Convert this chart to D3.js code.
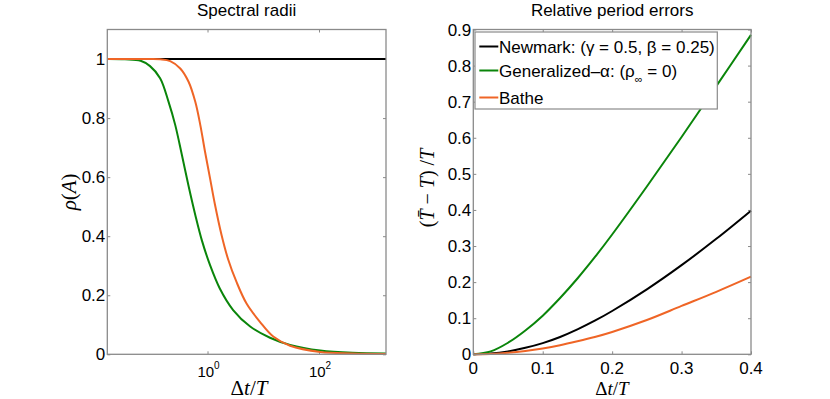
<!DOCTYPE html>
<html>
<head>
<meta charset="utf-8">
<script src="https://cdn.jsdelivr.net/npm/d3@7"></script>
<style>
  html, body { margin: 0; padding: 0; background: #fff; }
  svg { display: block; }
  text { font-family: "Liberation Sans", Arial, Helvetica, sans-serif; fill: #000; }
  .math { font-family: "Liberation Serif", "DejaVu Serif", serif; }
</style>
</head>
<body>
<svg id="chart" width="830" height="399"></svg>
<script>
// ---------------- Data ----------------
// Left panel: spectral radii vs Δt/T (log axis)
const srNewmarkX  = [0.0159, 1592];
const srNewmark   = [1, 1];
const srGenAlphaX = [0.0159, 0.033, 0.063, 0.093, 0.141, 0.20, 0.263, 0.347, 0.457, 0.603, 0.794, 1.11, 1.66, 2.88, 5.75, 13.2, 30.2, 105, 398, 1592];
const srGenAlpha  = [1.0, 0.999, 0.994, 0.976, 0.935, 0.855, 0.777, 0.675, 0.570, 0.472, 0.385, 0.302, 0.223, 0.150, 0.095, 0.056, 0.032, 0.013, 0.005, 0.003];
const srBatheX    = [0.0159, 0.093, 0.141, 0.214, 0.324, 0.457, 0.603, 0.741, 0.902, 1.11, 1.35, 1.78, 2.34, 3.31, 5.01, 8.71, 15.1, 30.2, 105, 398, 1592];
const srBathe     = [1.0, 1.0, 0.999, 0.993, 0.968, 0.923, 0.855, 0.777, 0.686, 0.596, 0.510, 0.405, 0.322, 0.245, 0.172, 0.110, 0.060, 0.029, 0.008, 0.003, 0.001];

// Right panel: relative period errors vs Δt/T
const peX        = [0, 0.025, 0.05, 0.075, 0.1, 0.125, 0.15, 0.175, 0.2, 0.25, 0.3, 0.35, 0.4];
const peNewmark  = [0, 0.002, 0.008, 0.018, 0.031, 0.048, 0.069, 0.093, 0.120, 0.180, 0.247, 0.320, 0.398];
const peGenAlpha = [0, 0.008, 0.032, 0.066, 0.107, 0.156, 0.210, 0.269, 0.332, 0.465, 0.602, 0.743, 0.885];
const peBathe    = [0, 0.001, 0.004, 0.009, 0.016, 0.025, 0.036, 0.048, 0.062, 0.095, 0.134, 0.173, 0.215];

// Ticks
const leftXTicks  = [1, 100];
const leftXExp    = ["0", "2"];
const leftYTicks  = [0, 0.2, 0.4, 0.6, 0.8, 1];
const leftYLabels = ["0", "0.2", "0.4", "0.6", "0.8", "1"];
const rightXTicks  = [0, 0.1, 0.2, 0.3, 0.4];
const rightXLabels = ["0", "0.1", "0.2", "0.3", "0.4"];
const rightYTicks  = [0, 0.1, 0.2, 0.3, 0.4, 0.5, 0.6, 0.7, 0.8, 0.9];
const rightYLabels = ["0", "0.1", "0.2", "0.3", "0.4", "0.5", "0.6", "0.7", "0.8", "0.9"];

const seriesNames  = ["Newmark", "Generalized-alpha", "Bathe"];
const seriesColors = ["#000000", "#0a850a", "#ef6526"];

// ---------------- Layout ----------------
const svg = d3.select("#chart");
const frameColor = "#8a8a8a";
const yTop = 29.5, yBot = 354.3;
const L = {x0: 107.3, x1: 386};
const R = {x0: 473.3, x1: 751};

const xL = d3.scaleLog().domain([0.1 / (2 * Math.PI), 1e4 / (2 * Math.PI)]).range([L.x0, L.x1]);
const yL = d3.scaleLinear().domain([0, 1.1]).range([yBot, yTop]);
const xR = d3.scaleLinear().domain([0, 0.4]).range([R.x0, R.x1]);
const yR = d3.scaleLinear().domain([0, 0.9]).range([yBot, yTop]);

function frame(g, x0, x1) {
  g.append("rect").attr("x", x0).attr("y", yTop).attr("width", x1 - x0).attr("height", yBot - yTop)
    .attr("fill", "#fff").attr("stroke", "none");
}
function border(g, x0, x1) {
  g.append("rect").attr("x", x0).attr("y", yTop).attr("width", x1 - x0).attr("height", yBot - yTop)
    .attr("fill", "none").attr("stroke", frameColor).attr("stroke-width", 1.3);
}
function ticks(g, xs, ys, xvals, yvals) {
  const tl = 3;
  const mk = (ax) => ax.tickSize(-tl).tickFormat("");
  const style = sel => { sel.select(".domain").remove(); sel.selectAll("line").attr("stroke", frameColor).attr("stroke-width", 1); };
  g.append("g").attr("transform", `translate(0,${yBot})`).call(mk(d3.axisBottom(xs).tickValues(xvals))).call(style);
  g.append("g").attr("transform", `translate(0,${yTop})`).call(mk(d3.axisTop(xs).tickValues(xvals))).call(style);
  g.append("g").attr("transform", `translate(${xs.range()[0]},0)`).call(mk(d3.axisLeft(ys).tickValues(yvals))).call(style);
  g.append("g").attr("transform", `translate(${xs.range()[1]},0)`).call(mk(d3.axisRight(ys).tickValues(yvals))).call(style);
}

// ---------- Left panel ----------
const gL = svg.append("g");
frame(gL, L.x0, L.x1);
ticks(gL, xL, yL, leftXTicks, leftYTicks);

const lineL = (xs, ys) => d3.line().x((d, i) => xL(xs[i])).y(d => yL(d)).curve(d3.curveCatmullRom.alpha(0.5))(ys);
[[srNewmarkX, srNewmark, 0], [srGenAlphaX, srGenAlpha, 1], [srBatheX, srBathe, 2]].forEach(([xs, ys, k]) => {
  gL.append("path").attr("d", lineL(xs, ys)).attr("fill", "none")
    .attr("stroke", seriesColors[k]).attr("stroke-width", 2);
});
border(gL, L.x0, L.x1);

gL.selectAll("text.yt").data(leftYTicks).join("text").attr("class", "yt")
  .attr("x", L.x0 - 2).attr("y", d => yL(d)).attr("dy", "0.36em")
  .attr("text-anchor", "end").attr("font-size", 17).text((d, i) => leftYLabels[i]);

const xtl = gL.selectAll("text.xt").data(leftXTicks).join("text").attr("class", "xt")
  .attr("x", d => xL(d) + 1).attr("y", 377).attr("text-anchor", "middle").attr("font-size", 15);
xtl.append("tspan").text("10");
xtl.append("tspan").attr("font-size", 10).attr("dy", -8).text((d, i) => leftXExp[i]);

gL.append("text").attr("x", (L.x0 + L.x1) / 2).attr("y", 16).attr("text-anchor", "middle")
  .attr("font-size", 17).text("Spectral radii");

const xlabL = gL.append("text").attr("class", "math").attr("x", 249).attr("y", 395)
  .attr("text-anchor", "middle").attr("font-size", 21);
xlabL.append("tspan").text("Δ");
xlabL.append("tspan").attr("font-style", "italic").text("t");
xlabL.append("tspan").text("/");
xlabL.append("tspan").attr("font-style", "italic").text("T");

const ylabL = gL.append("text").attr("class", "math")
  .attr("transform", `translate(76,${(yTop + yBot) / 2}) rotate(-90)`)
  .attr("text-anchor", "middle").attr("font-size", 21);
ylabL.append("tspan").attr("font-style", "italic").text("ρ");
ylabL.append("tspan").text("(");
ylabL.append("tspan").attr("font-style", "italic").text("A");
ylabL.append("tspan").text(")");

// ---------- Right panel ----------
const gR = svg.append("g");
frame(gR, R.x0, R.x1);
ticks(gR, xR, yR, rightXTicks, rightYTicks);

const lineR = ys => d3.line().x((d, i) => xR(peX[i])).y(d => yR(d)).curve(d3.curveCatmullRom.alpha(0.5))(ys);
[[peNewmark, 0], [peGenAlpha, 1], [peBathe, 2]].forEach(([ys, k]) => {
  gR.append("path").attr("d", lineR(ys)).attr("fill", "none")
    .attr("stroke", seriesColors[k]).attr("stroke-width", 2);
});
border(gR, R.x0, R.x1);

gR.selectAll("text.yt").data(rightYTicks).join("text").attr("class", "yt")
  .attr("x", R.x0 - 2).attr("y", d => yR(d)).attr("dy", "0.36em")
  .attr("text-anchor", "end").attr("font-size", 17).text((d, i) => rightYLabels[i]);
gR.selectAll("text.xt").data(rightXTicks).join("text").attr("class", "xt")
  .attr("x", d => xR(d)).attr("y", 374).attr("text-anchor", "middle")
  .attr("font-size", 17).text((d, i) => rightXLabels[i]);

gR.append("text").attr("x", (R.x0 + R.x1) / 2).attr("y", 16).attr("text-anchor", "middle")
  .attr("font-size", 17).text("Relative period errors");

const xlabR = gR.append("text").attr("class", "math").attr("x", 612).attr("y", 394.5)
  .attr("text-anchor", "middle").attr("font-size", 19);
xlabR.append("tspan").text("Δ");
xlabR.append("tspan").attr("font-style", "italic").text("t");
xlabR.append("tspan").text("/");
xlabR.append("tspan").attr("font-style", "italic").text("T");

const ylabR = gR.append("text").attr("class", "math")
  .attr("transform", `translate(434,188) rotate(-90)`)
  .attr("text-anchor", "middle").attr("font-size", 20);
ylabR.append("tspan").text("(");
ylabR.append("tspan").attr("font-style", "italic").text("T\u0304");
ylabR.append("tspan").text(" − ");
ylabR.append("tspan").attr("font-style", "italic").text("T");
ylabR.append("tspan").text(") /");
ylabR.append("tspan").attr("font-style", "italic").text("T");

// Legend
const lg = gR.append("g");
lg.append("rect").attr("x", 475).attr("y", 32).attr("width", 242.3).attr("height", 77)
  .attr("fill", "#fff").attr("stroke", frameColor).attr("stroke-width", 1.2);
const rowY = [46.5, 70.5, 97.5];
rowY.forEach((y, k) => {
  lg.append("line").attr("x1", 479.3).attr("x2", 498.3).attr("y1", y).attr("y2", y)
    .attr("stroke", seriesColors[k]).attr("stroke-width", 2);
});
lg.append("text").attr("x", 499).attr("y", rowY[0]).attr("dy", "0.36em").attr("font-size", 17)
  .text("Newmark: (γ = 0.5, β = 0.25)");
const t2 = lg.append("text").attr("x", 499).attr("y", rowY[1]).attr("dy", "0.36em").attr("font-size", 17);
t2.append("tspan").text("Generalized–α: (ρ");
t2.append("tspan").attr("font-size", 11).attr("dy", 6).text("∞");
t2.append("tspan").attr("dy", -6).text(" = 0)");
lg.append("text").attr("x", 499).attr("y", rowY[2]).attr("dy", "0.36em").attr("font-size", 17)
  .text("Bathe");
</script>
</body>
</html>
